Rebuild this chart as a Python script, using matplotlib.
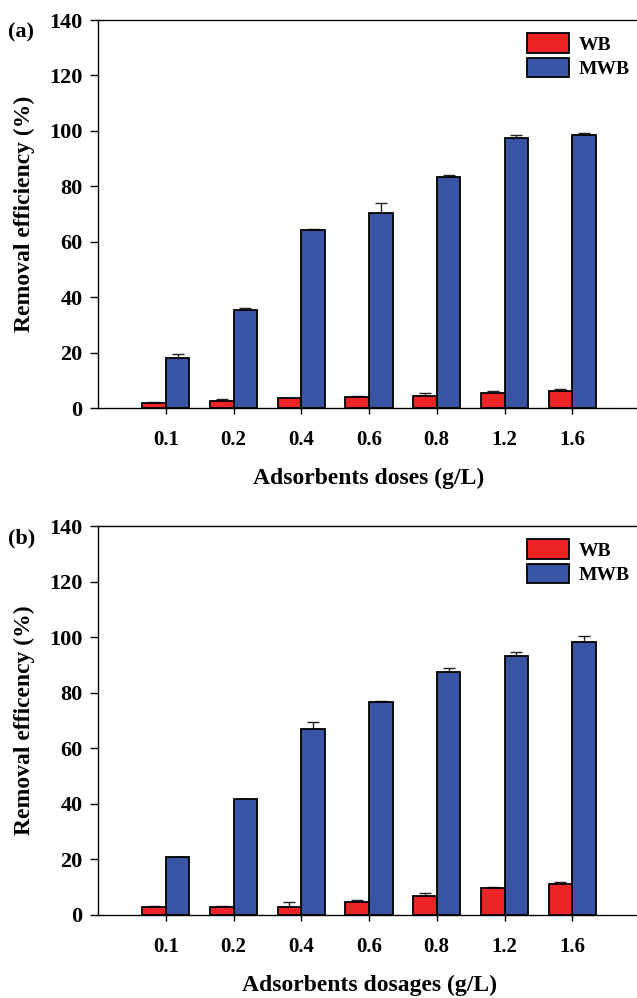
import numpy as np
import matplotlib
matplotlib.use("Agg")
import matplotlib.pyplot as plt
from matplotlib.patches import Patch

plt.rcParams['font.family'] = ['Liberation Serif', 'DejaVu Serif']
plt.rcParams['font.weight'] = 'bold'

doses = ["0.1", "0.2", "0.4", "0.6", "0.8", "1.2", "1.6"]

# Panel (a)
wb_a = [1.7, 2.5, 3.5, 3.9, 4.2, 5.5, 6.0]
wb_a_err = [0.3, 0.7, 0.2, 0.5, 1.3, 0.5, 0.9]
mwb_a = [18.0, 35.5, 64.2, 70.5, 83.5, 97.3, 98.6]
mwb_a_err = [1.4, 0.5, 0.5, 3.4, 0.7, 1.1, 0.5]

# Panel (b)
wb_b = [2.9, 2.9, 3.0, 4.8, 6.8, 9.6, 11.3]
wb_b_err = [0.2, 0.5, 1.8, 0.5, 1.2, 0.4, 0.4]
mwb_b = [20.9, 41.7, 67.0, 76.5, 87.6, 93.1, 98.2]
mwb_b_err = [0.0, 0.1, 2.6, 0.4, 1.4, 1.7, 2.2]

RED = "#EE2326"
BLUE = "#3A54A4"

fig = plt.figure(figsize=(6.37, 9.98), dpi=100)
W, H = 637, 998


def panel(rect, wb, wb_err, mwb, mwb_err, ylabel, xlabel, tag):
    left, top, right, bottom = rect
    ax = fig.add_axes([left / W, 1 - bottom / H, (right - left) / W, (bottom - top) / H])
    x = np.arange(1, len(doses) + 1)
    w = 0.35
    ax.bar(x - w / 2, wb, w, color=RED, edgecolor="black", linewidth=1.3, zorder=2)
    ax.bar(x + w / 2, mwb, w, color=BLUE, edgecolor="black", linewidth=1.3, zorder=2)
    ax.errorbar(x - w / 2, wb, yerr=[np.zeros(len(wb)), wb_err], fmt="none",
                ecolor="#222222", elinewidth=1.0, capsize=4.3, capthick=1.0, zorder=1)
    ax.errorbar(x + w / 2, mwb, yerr=[np.zeros(len(mwb)), mwb_err], fmt="none",
                ecolor="#222222", elinewidth=1.0, capsize=4.3, capthick=1.0, zorder=1)
    ax.set_xlim(0, 8)
    ax.set_ylim(0, 140)
    ax.set_xticks(x)
    ax.set_xticklabels(doses, fontsize=15, fontweight="bold")
    ax.set_yticks(np.arange(0, 141, 20))
    ax.set_yticklabels([str(v) for v in range(0, 141, 20)], fontsize=16, fontweight="bold")
    ax.tick_params(axis="y", direction="out", length=6, width=1, pad=5)
    ax.tick_params(axis="x", direction="out", length=4.5, width=1, pad=11)
    ax.spines["right"].set_visible(False)
    for s in ("left", "top", "bottom"):
        ax.spines[s].set_linewidth(1.0)
    ax.set_ylabel(ylabel, fontsize=17, fontweight="bold", labelpad=10)
    ax.set_xlabel(xlabel, fontsize=17, fontweight="bold", labelpad=13)
    handles = [Patch(facecolor=RED, edgecolor="black", linewidth=1.3, label="WB"),
               Patch(facecolor=BLUE, edgecolor="black", linewidth=1.3, label="MWB")]
    ax.legend(handles=handles, loc="upper left", bbox_to_anchor=(0.7915, 0.966),
              frameon=False, borderpad=0, borderaxespad=0,
              handlelength=2.16, handleheight=1.19,
              handletextpad=0.5, labelspacing=0.2,
              prop={"weight": "bold", "size": 14})
    fig.text(8 / W, 1 - (top + 12) / H, tag, fontsize=16, fontweight="bold",
             ha="left", va="center")
    return ax


panel((98, 20, 640, 408), wb_a, wb_a_err, mwb_a, mwb_a_err,
      "Removal efficiency (%)", "Adsorbents doses (g/L)", "(a)")
panel((98, 526, 640, 915), wb_b, wb_b_err, mwb_b, mwb_b_err,
      "Removal efficency (%)", "Adsorbents dosages (g/L)", "(b)")

fig.savefig("out.png", dpi=100)
